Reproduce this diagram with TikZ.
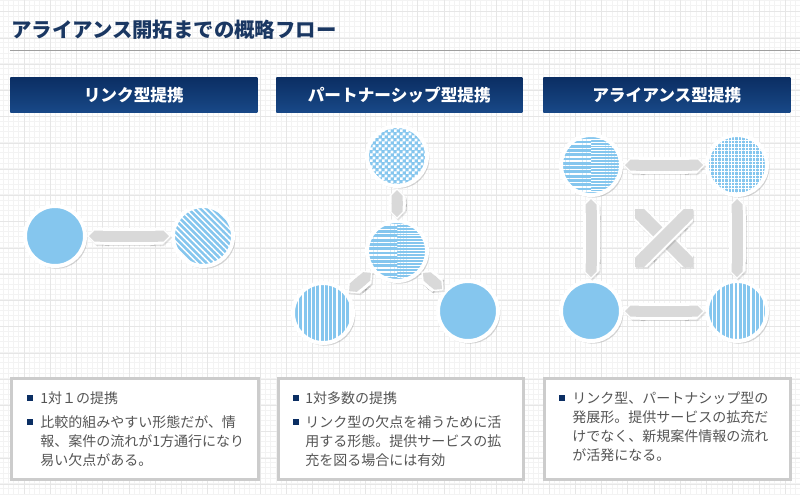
\documentclass[tikz,border=0pt]{standalone}
\usepackage{fontspec}
\setmainfont{Noto Sans CJK JP}
\usetikzlibrary{arrows.meta,patterns,patterns.meta,shadows}
\definecolor{navy}{HTML}{0B2E63}
\definecolor{navylight}{HTML}{184887}
\definecolor{titleblue}{HTML}{1A3762}
\definecolor{sky}{HTML}{85C6EE}
\definecolor{linkgray}{HTML}{D9D9D9}
\definecolor{boxgray}{HTML}{CCCCCC}
\definecolor{textgray}{HTML}{555555}
\definecolor{gridmajor}{HTML}{E6E6E6}
\definecolor{gridminor}{HTML}{F3F3F3}
\pgfdeclarepatternformonly{finechecks}{\pgfpointorigin}{\pgfpoint{4.2pt}{4.2pt}}{\pgfpoint{4.2pt}{4.2pt}}{%
  \pgfpathrectangle{\pgfpointorigin}{\pgfpoint{2.1pt}{2.1pt}}%
  \pgfpathrectangle{\pgfpoint{2.1pt}{2.1pt}}{\pgfpoint{2.1pt}{2.1pt}}%
  \pgfusepath{fill}}

\begin{document}
\begin{tikzpicture}[x=0.75pt,y=-0.75pt]
\tikzset{
  hub/.style={circle,inner sep=0pt,minimum size=45pt,fill=sky,draw=white,line width=3pt,
    drop shadow={shadow xshift=1.3pt,shadow yshift=-1.5pt,shadow scale=1.02,opacity=0.33}},
  slant/.style={postaction={pattern={Lines[angle=-45,distance=3.2pt,line width=1.1pt]},pattern color=white}},
  upright/.style={postaction={pattern={Lines[angle=90,distance=3.2pt,line width=1pt]},pattern color=white}},
  checks/.style={postaction={pattern=finechecks,pattern color=white}},
  mesh/.style={postaction={pattern={Hatch[angle=0,distance=2.6pt,line width=0.7pt]},pattern color=white}},
  halves/.style={path picture={
    \fill[pattern={Lines[angle=0,distance=3.2pt,line width=1.1pt]},pattern color=white]
      (path picture bounding box.north west) rectangle (path picture bounding box.south);
    \fill[pattern={Lines[angle=0,distance=2.2pt,line width=0.6pt]},pattern color=white]
      (path picture bounding box.north) rectangle (path picture bounding box.south east);}},
  link/.style={draw=linkgray,line width=8.25pt,{Triangle Cap}-{Triangle Cap},shorten <=1.5pt,shorten >=1.5pt,
    preaction={draw=black,opacity=0.12,line width=12.75pt,shorten <=0pt,shorten >=0pt,
      transform canvas={shift={(0.9pt,-1.2pt)}}},
    preaction={draw=white,line width=12.75pt,shorten <=0pt,shorten >=0pt}},
  header/.style={anchor=north west,minimum height=26.25pt,inner sep=0pt,top color=navy,
    bottom color=navylight,text=white,font=\bfseries\fontsize{12.5pt}{14pt}\selectfont},
  infobox/.style={anchor=north west,minimum height=75.75pt,fill=white,draw=boxgray,line width=2.25pt},
  bullet/.style={fill=navy,inner sep=0pt,minimum size=5pt},
  desc/.style={anchor=base west,inner sep=0pt,text width=175pt,align=left,text=textgray,
    font=\fontsize{10.5pt}{14.6pt}\selectfont}
}
\useasboundingbox (0,0) rectangle (800,494);
\fill[white] (0,0) rectangle (800,494);
% grid
\foreach \gx in {0,...,153} \draw[gridminor,line width=0.6pt] ({-2.25+\gx*5.25},0) -- ++(0,494);
\foreach \gy in {0,...,95} \draw[gridminor,line width=0.6pt] (0,{.5+\gy*5.25}) -- ++(800,0);
\foreach \gx in {0,...,31} \draw[gridmajor,line width=0.75pt] ({-2.25+\gx*26.25},0) -- ++(0,494);
\foreach \gy in {0,...,19} \draw[gridmajor,line width=0.75pt] (0,{11.75+\gy*26.25}) -- ++(800,0);

% title
\node[anchor=west,inner sep=0pt,text=titleblue,font=\bfseries\fontsize{15.3pt}{18pt}\selectfont] (title) at (11,30) {アライアンス開拓までの概略フロー};
\coordinate (ruleL) at (10,50);
\coordinate (ruleR) at (800,50);
\draw[gray!75,line width=0.75pt] (ruleL) -- (ruleR);

% headers
\node[header,minimum width=185.25pt] (hdLink) at (10,77) {リンク型提携};
\node[header,minimum width=184.5pt] (hdPart) at (276,77) {パートナーシップ型提携};
\node[header,minimum width=185.25pt] (hdAlli) at (543,77) {アライアンス型提携};

% link
\node[hub] (lkA) at (55,236) {};
\node[hub,slant] (lkB) at (203,236) {};
\draw[link] (lkA) -- (lkB);

% partnership
\node[hub,checks] (ptTop) at (397,156) {};
\node[hub,halves] (ptMid) at (397,251) {};
\node[hub,upright] (ptL) at (323,313) {};
\node[hub] (ptR) at (468,311) {};
\draw[link] (ptTop) -- (ptMid);
\draw[link] (ptMid) -- (ptL);
\draw[link] (ptMid) -- (ptR);

% alliance
\node[hub,halves] (alTL) at (591,165) {};
\node[hub,mesh] (alTR) at (737,165) {};
\node[hub] (alBL) at (591,311) {};
\node[hub,upright] (alBR) at (737,311) {};
\draw[link] (alTL) -- (alTR);
\draw[link] (alBL) -- (alBR);
\draw[link] (alTL) -- (alBL);
\draw[link] (alTR) -- (alBR);
\coordinate (alC) at (664,238);
\draw[link,line width=9.75pt,shorten <=0pt,shorten >=0pt] ([shift={(-29,-29)}]alC) -- ([shift={(29,29)}]alC);
\draw[link,line width=9.75pt,shorten <=0pt,shorten >=0pt] ([shift={(29,-29)}]alC) -- ([shift={(-29,29)}]alC);

% notes
\node[infobox,minimum width=185.25pt] (boxLink) at (10,377) {};
\node[infobox,minimum width=183.75pt] (boxPart) at (277,377) {};
\node[infobox,minimum width=184.5pt] (boxAlli) at (543,377) {};

\node[bullet] (bl1) at (30,398) {};
\node[desc] (tl1) at (40,403) {1対１の提携};
\node[bullet] (bl2) at (30,422) {};
\node[desc] (tl2) at (40,427) {比較的組みやすい形態だが、情\\報、案件の流れが1方通行になり\\易い欠点がある。};

\node[bullet] (bp1) at (296,398) {};
\node[desc] (tp1) at (305,403) {1対多数の提携};
\node[bullet] (bp2) at (296,422) {};
\node[desc] (tp2) at (305,427) {リンク型の欠点を補うために活\\用する形態。提供サービスの拡\\充を図る場合には有効};

\node[bullet] (ba1) at (562,398) {};
\node[desc,font=\fontsize{10.5pt}{14.3pt}\selectfont] (ta1) at (572,403) {リンク型、パートナシップ型の\\発展形。提供サービスの拡充だ\\けでなく、新規案件情報の流れ\\が活発になる。};
\end{tikzpicture}
\end{document}
